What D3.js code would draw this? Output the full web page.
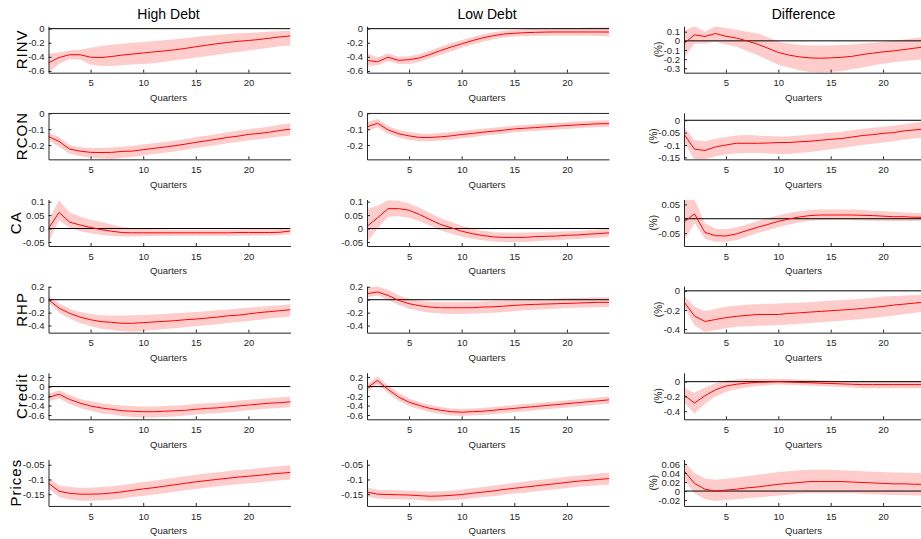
<!DOCTYPE html>
<html><head><meta charset="utf-8">
<script src="https://cdn.jsdelivr.net/npm/d3@7"></script>
<style>
body{margin:0;background:#fff;}
svg{display:block;font-family:"Liberation Sans",Arial,Helvetica,sans-serif;}
</style></head><body>
<svg id="chart" width="921" height="539"></svg>
<script>
// Impulse responses: median (mid) with lower/upper confidence band, by debt regime
const quarters = [1,2,3,4,5,6,7,8,9,10,11,12,13,14,15,16,17,18,19,20,21,22,23,24];
const columnTitles = ["High Debt", "Low Debt", "Difference"];
const rowLabels = ["RINV", "RCON", "CA", "RHP", "Credit", "Prices"];
const xTicks = [5, 10, 15, 20];

// RINV
const rinvHighMid = [-0.485,-0.41,-0.37,-0.37,-0.405,-0.41,-0.395,-0.375,-0.36,-0.345,-0.33,-0.316,-0.30,-0.28,-0.257,-0.235,-0.215,-0.196,-0.18,-0.168,-0.154,-0.135,-0.117,-0.103];
const rinvHighUp  = [-0.355,-0.34,-0.31,-0.30,-0.27,-0.245,-0.23,-0.215,-0.20,-0.19,-0.175,-0.165,-0.15,-0.135,-0.12,-0.10,-0.09,-0.075,-0.065,-0.06,-0.05,-0.04,-0.035,-0.03];
const rinvHighLo  = [-0.62,-0.50,-0.43,-0.44,-0.51,-0.53,-0.53,-0.52,-0.51,-0.50,-0.49,-0.47,-0.45,-0.43,-0.41,-0.39,-0.37,-0.35,-0.33,-0.31,-0.29,-0.27,-0.25,-0.24];
const rinvLowMid  = [-0.45,-0.47,-0.405,-0.45,-0.44,-0.415,-0.365,-0.31,-0.26,-0.215,-0.17,-0.13,-0.10,-0.076,-0.066,-0.057,-0.052,-0.048,-0.047,-0.047,-0.047,-0.047,-0.047,-0.048];
const rinvLowUp   = [-0.35,-0.41,-0.35,-0.40,-0.39,-0.36,-0.31,-0.255,-0.205,-0.16,-0.12,-0.08,-0.05,-0.03,-0.02,-0.01,-0.005,0.0,0.005,0.01,0.01,0.015,0.015,0.02];
const rinvLowLo   = [-0.53,-0.52,-0.46,-0.50,-0.50,-0.47,-0.42,-0.37,-0.32,-0.27,-0.225,-0.185,-0.15,-0.125,-0.11,-0.105,-0.10,-0.10,-0.10,-0.10,-0.10,-0.10,-0.105,-0.11];
const rinvDiffMid = [-0.03,0.066,0.048,0.08,0.05,0.03,0.0,-0.036,-0.08,-0.127,-0.155,-0.175,-0.186,-0.19,-0.186,-0.18,-0.17,-0.15,-0.135,-0.12,-0.11,-0.095,-0.08,-0.066];
const rinvDiffUp  = [0.11,0.16,0.10,0.16,0.14,0.12,0.10,0.08,0.04,-0.01,-0.03,-0.045,-0.05,-0.05,-0.05,-0.045,-0.04,-0.03,-0.02,-0.01,0.0,0.015,0.03,0.04];
const rinvDiffLo  = [-0.19,-0.03,-0.03,-0.01,-0.04,-0.065,-0.11,-0.155,-0.21,-0.26,-0.29,-0.32,-0.34,-0.345,-0.34,-0.33,-0.31,-0.29,-0.27,-0.25,-0.235,-0.22,-0.21,-0.2];

// RCON
const rconHighMid = [-0.146,-0.177,-0.225,-0.238,-0.246,-0.247,-0.246,-0.24,-0.238,-0.229,-0.221,-0.213,-0.204,-0.194,-0.183,-0.173,-0.163,-0.152,-0.144,-0.133,-0.127,-0.119,-0.108,-0.10];
const rconHighUp  = [-0.12,-0.15,-0.20,-0.213,-0.218,-0.218,-0.215,-0.21,-0.205,-0.197,-0.189,-0.18,-0.171,-0.161,-0.151,-0.141,-0.131,-0.12,-0.11,-0.10,-0.092,-0.083,-0.072,-0.062];
const rconHighLo  = [-0.17,-0.21,-0.255,-0.27,-0.28,-0.285,-0.29,-0.28,-0.275,-0.265,-0.257,-0.248,-0.24,-0.23,-0.219,-0.209,-0.199,-0.189,-0.18,-0.169,-0.163,-0.155,-0.146,-0.14];
const rconLowMid  = [-0.085,-0.063,-0.104,-0.129,-0.142,-0.152,-0.152,-0.148,-0.142,-0.133,-0.127,-0.119,-0.113,-0.106,-0.098,-0.094,-0.09,-0.085,-0.081,-0.077,-0.073,-0.069,-0.066,-0.065];
const rconLowUp   = [-0.055,-0.035,-0.08,-0.105,-0.118,-0.127,-0.128,-0.124,-0.118,-0.11,-0.104,-0.097,-0.091,-0.084,-0.077,-0.073,-0.069,-0.064,-0.06,-0.056,-0.052,-0.048,-0.045,-0.044];
const rconLowLo   = [-0.115,-0.088,-0.128,-0.153,-0.166,-0.176,-0.176,-0.172,-0.166,-0.157,-0.15,-0.142,-0.135,-0.128,-0.119,-0.115,-0.111,-0.106,-0.102,-0.098,-0.094,-0.09,-0.087,-0.086];
const rconDiffMid = [-0.056,-0.117,-0.122,-0.108,-0.10,-0.093,-0.093,-0.093,-0.092,-0.09,-0.09,-0.087,-0.085,-0.081,-0.077,-0.074,-0.068,-0.062,-0.058,-0.053,-0.05,-0.043,-0.039,-0.035];
const rconDiffUp  = [-0.026,-0.08,-0.085,-0.075,-0.068,-0.062,-0.06,-0.062,-0.064,-0.066,-0.065,-0.062,-0.058,-0.054,-0.05,-0.046,-0.04,-0.035,-0.03,-0.026,-0.022,-0.016,-0.01,-0.005];
const rconDiffLo  = [-0.087,-0.16,-0.158,-0.145,-0.138,-0.133,-0.132,-0.132,-0.134,-0.136,-0.136,-0.132,-0.128,-0.123,-0.117,-0.112,-0.106,-0.1,-0.095,-0.09,-0.085,-0.078,-0.073,-0.069];

// CA
const caHighMid = [0.0,0.06,0.024,0.013,0.004,-0.004,-0.01,-0.015,-0.016,-0.016,-0.016,-0.016,-0.016,-0.016,-0.016,-0.016,-0.016,-0.016,-0.015,-0.015,-0.015,-0.015,-0.014,-0.009];
const caHighUp  = [0.03,0.105,0.06,0.045,0.033,0.024,0.015,0.006,0.001,-0.002,-0.003,-0.004,-0.005,-0.005,-0.005,-0.005,-0.005,-0.005,-0.004,-0.003,-0.003,-0.003,-0.002,0.003];
const caHighLo  = [-0.05,0.03,0.003,-0.01,-0.018,-0.024,-0.028,-0.03,-0.03,-0.029,-0.028,-0.028,-0.028,-0.028,-0.028,-0.028,-0.028,-0.028,-0.027,-0.027,-0.027,-0.027,-0.025,-0.02];
const caLowMid  = [0.008,0.04,0.074,0.074,0.068,0.052,0.033,0.015,0.003,-0.01,-0.019,-0.026,-0.031,-0.033,-0.033,-0.033,-0.03,-0.029,-0.028,-0.025,-0.024,-0.021,-0.019,-0.016];
const caLowUp   = [0.073,0.085,0.105,0.103,0.093,0.077,0.057,0.038,0.024,0.01,0.0,-0.008,-0.014,-0.016,-0.016,-0.016,-0.014,-0.013,-0.012,-0.01,-0.009,-0.006,-0.004,-0.002];
const caLowLo   = [-0.049,0.0,0.044,0.046,0.04,0.027,0.01,-0.007,-0.019,-0.03,-0.038,-0.044,-0.048,-0.05,-0.05,-0.05,-0.047,-0.045,-0.044,-0.041,-0.039,-0.036,-0.034,-0.031];
const caDiffMid = [-0.012,0.017,-0.048,-0.059,-0.06,-0.053,-0.041,-0.03,-0.02,-0.009,-0.001,0.006,0.011,0.013,0.013,0.013,0.013,0.012,0.011,0.009,0.007,0.007,0.005,0.005];
const caDiffUp  = [0.066,0.066,-0.016,-0.035,-0.037,-0.03,-0.02,-0.008,0.002,0.012,0.02,0.026,0.03,0.032,0.032,0.032,0.032,0.03,0.028,0.026,0.024,0.022,0.02,0.018];
const caDiffLo  = [-0.078,-0.014,-0.07,-0.08,-0.08,-0.074,-0.063,-0.05,-0.04,-0.03,-0.02,-0.012,-0.007,-0.005,-0.004,-0.004,-0.005,-0.006,-0.007,-0.008,-0.008,-0.008,-0.008,-0.008];

// RHP
const rhpHighMid = [0.0,-0.13,-0.21,-0.27,-0.31,-0.34,-0.35,-0.365,-0.365,-0.355,-0.345,-0.335,-0.325,-0.31,-0.30,-0.285,-0.27,-0.25,-0.24,-0.22,-0.2,-0.185,-0.17,-0.155];
const rhpHighUp  = [0.067,-0.06,-0.14,-0.19,-0.22,-0.24,-0.245,-0.245,-0.24,-0.235,-0.228,-0.22,-0.21,-0.2,-0.19,-0.178,-0.165,-0.15,-0.137,-0.124,-0.11,-0.097,-0.085,-0.072];
const rhpHighLo  = [-0.036,-0.2,-0.29,-0.36,-0.41,-0.45,-0.47,-0.49,-0.495,-0.485,-0.47,-0.455,-0.44,-0.425,-0.41,-0.395,-0.38,-0.36,-0.345,-0.33,-0.31,-0.29,-0.275,-0.258];
const rhpLowMid  = [0.093,0.12,0.067,-0.01,-0.062,-0.093,-0.114,-0.124,-0.124,-0.124,-0.124,-0.114,-0.11,-0.1,-0.088,-0.078,-0.072,-0.067,-0.062,-0.057,-0.052,-0.046,-0.041,-0.041];
const rhpLowUp   = [0.19,0.21,0.15,0.07,0.015,-0.015,-0.03,-0.036,-0.036,-0.035,-0.032,-0.026,-0.02,-0.012,-0.005,0.0,0.007,0.012,0.018,0.026,0.03,0.035,0.04,0.04];
const rhpLowLo   = [0.04,0.067,0.0,-0.08,-0.14,-0.175,-0.2,-0.215,-0.22,-0.22,-0.215,-0.21,-0.2,-0.19,-0.178,-0.165,-0.155,-0.146,-0.138,-0.13,-0.125,-0.12,-0.116,-0.114];
const rhpDiffMid = [-0.115,-0.264,-0.32,-0.30,-0.28,-0.267,-0.257,-0.247,-0.247,-0.247,-0.236,-0.23,-0.222,-0.215,-0.208,-0.201,-0.194,-0.184,-0.174,-0.163,-0.149,-0.139,-0.128,-0.118];
const rhpDiffUp  = [-0.045,-0.167,-0.21,-0.19,-0.167,-0.155,-0.145,-0.14,-0.136,-0.132,-0.128,-0.124,-0.118,-0.111,-0.104,-0.097,-0.09,-0.082,-0.072,-0.06,-0.055,-0.05,-0.045,-0.038];
const rhpDiffLo  = [-0.167,-0.36,-0.43,-0.41,-0.39,-0.375,-0.37,-0.365,-0.362,-0.36,-0.352,-0.345,-0.337,-0.329,-0.32,-0.312,-0.304,-0.294,-0.284,-0.27,-0.258,-0.245,-0.23,-0.217];

// Credit
const creditHighMid = [-0.23,-0.16,-0.27,-0.35,-0.41,-0.45,-0.48,-0.51,-0.52,-0.53,-0.53,-0.52,-0.51,-0.50,-0.48,-0.46,-0.45,-0.43,-0.41,-0.39,-0.37,-0.35,-0.34,-0.32];
const creditHighUp  = [-0.15,-0.08,-0.18,-0.26,-0.31,-0.35,-0.38,-0.40,-0.41,-0.42,-0.42,-0.41,-0.40,-0.39,-0.37,-0.35,-0.34,-0.32,-0.30,-0.28,-0.26,-0.24,-0.23,-0.21];
const creditHighLo  = [-0.31,-0.25,-0.37,-0.45,-0.51,-0.56,-0.59,-0.62,-0.64,-0.65,-0.65,-0.64,-0.63,-0.61,-0.59,-0.57,-0.56,-0.54,-0.52,-0.50,-0.48,-0.46,-0.45,-0.43];
const creditLowMid  = [-0.03,0.13,-0.06,-0.22,-0.33,-0.40,-0.46,-0.50,-0.53,-0.54,-0.53,-0.52,-0.50,-0.48,-0.46,-0.44,-0.42,-0.40,-0.38,-0.36,-0.34,-0.32,-0.30,-0.28];
const creditLowUp   = [0.05,0.21,0.03,-0.13,-0.25,-0.33,-0.39,-0.43,-0.46,-0.47,-0.46,-0.45,-0.43,-0.41,-0.39,-0.37,-0.35,-0.33,-0.31,-0.29,-0.27,-0.25,-0.23,-0.21];
const creditLowLo   = [-0.11,0.05,-0.14,-0.30,-0.41,-0.48,-0.54,-0.58,-0.61,-0.62,-0.61,-0.60,-0.58,-0.56,-0.54,-0.52,-0.50,-0.48,-0.46,-0.44,-0.42,-0.40,-0.38,-0.36];
const creditDiffMid = [-0.18,-0.29,-0.19,-0.11,-0.06,-0.035,-0.02,-0.01,-0.005,0.0,-0.005,-0.01,-0.015,-0.02,-0.025,-0.03,-0.035,-0.04,-0.04,-0.04,-0.04,-0.04,-0.04,-0.04];
const creditDiffUp  = [-0.08,-0.15,-0.08,-0.02,0.02,0.03,0.04,0.04,0.04,0.04,0.035,0.03,0.025,0.02,0.015,0.01,0.01,0.01,0.01,0.01,0.01,0.01,0.01,0.01];
const creditDiffLo  = [-0.28,-0.43,-0.30,-0.20,-0.14,-0.10,-0.08,-0.06,-0.05,-0.04,-0.045,-0.05,-0.055,-0.06,-0.065,-0.07,-0.08,-0.09,-0.09,-0.09,-0.09,-0.09,-0.09,-0.09];

// Prices
const pricesHighMid = [-0.113,-0.14,-0.147,-0.15,-0.15,-0.149,-0.146,-0.142,-0.137,-0.132,-0.128,-0.123,-0.118,-0.113,-0.108,-0.104,-0.10,-0.096,-0.092,-0.089,-0.086,-0.082,-0.079,-0.076];
const pricesHighUp  = [-0.095,-0.12,-0.126,-0.128,-0.128,-0.126,-0.123,-0.119,-0.114,-0.109,-0.104,-0.099,-0.094,-0.089,-0.084,-0.080,-0.076,-0.072,-0.068,-0.065,-0.062,-0.058,-0.055,-0.052];
const pricesHighLo  = [-0.131,-0.16,-0.168,-0.172,-0.172,-0.171,-0.169,-0.165,-0.160,-0.155,-0.151,-0.147,-0.142,-0.137,-0.132,-0.128,-0.124,-0.120,-0.116,-0.113,-0.110,-0.106,-0.103,-0.100];
const pricesLowMid  = [-0.143,-0.15,-0.151,-0.152,-0.153,-0.155,-0.157,-0.156,-0.154,-0.151,-0.147,-0.143,-0.139,-0.134,-0.13,-0.126,-0.122,-0.118,-0.114,-0.11,-0.106,-0.103,-0.1,-0.097];
const pricesLowUp   = [-0.128,-0.135,-0.136,-0.137,-0.138,-0.14,-0.141,-0.14,-0.138,-0.134,-0.13,-0.126,-0.121,-0.116,-0.112,-0.107,-0.103,-0.099,-0.095,-0.091,-0.087,-0.084,-0.08,-0.077];
const pricesLowLo   = [-0.158,-0.165,-0.166,-0.167,-0.168,-0.17,-0.173,-0.172,-0.17,-0.168,-0.164,-0.16,-0.157,-0.152,-0.148,-0.145,-0.141,-0.137,-0.133,-0.129,-0.125,-0.122,-0.12,-0.117];
const pricesDiffMid = [0.045,0.017,0.004,0.0,0.002,0.004,0.007,0.009,0.012,0.015,0.017,0.019,0.021,0.021,0.021,0.021,0.02,0.019,0.018,0.017,0.016,0.016,0.015,0.015];
const pricesDiffUp  = [0.065,0.04,0.028,0.025,0.027,0.03,0.033,0.036,0.039,0.042,0.044,0.046,0.047,0.047,0.047,0.046,0.045,0.044,0.043,0.042,0.041,0.041,0.04,0.04];
const pricesDiffLo  = [0.025,-0.005,-0.018,-0.022,-0.02,-0.018,-0.016,-0.014,-0.012,-0.01,-0.008,-0.006,-0.005,-0.005,-0.005,-0.005,-0.005,-0.006,-0.007,-0.008,-0.009,-0.009,-0.01,-0.01];

// Y ticks per panel
const rinvTicks = [-0.6,-0.4,-0.2,0],  rinvDiffTicks = [-0.3,-0.2,-0.1,0,0.1];
const rconTicks = [-0.2,-0.1,0],       rconDiffTicks = [-0.15,-0.1,-0.05,0];
const caTicks = [-0.05,0,0.05,0.1],    caDiffTicks = [-0.05,0,0.05];
const rhpTicks = [-0.4,-0.2,0,0.2],    rhpDiffTicks = [-0.4,-0.2,0];
const creditTicks = [-0.6,-0.4,-0.2,0,0.2], creditDiffTicks = [-0.4,-0.2,0];
const pricesTicks = [-0.15,-0.1,-0.05], pricesDiffTicks = [-0.02,0,0.02,0.04,0.06];

// Panel table (row-major): series + axis limits
const panels = [
  {mid: rinvHighMid, up: rinvHighUp, lo: rinvHighLo, dom: [-0.625, 0.035], ticks: rinvTicks},
  {mid: rinvLowMid,  up: rinvLowUp,  lo: rinvLowLo,  dom: [-0.625, 0.035], ticks: rinvTicks},
  {mid: rinvDiffMid, up: rinvDiffUp, lo: rinvDiffLo, dom: [-0.348, 0.16], ticks: rinvDiffTicks},
  {mid: rconHighMid, up: rconHighUp, lo: rconHighLo, dom: [-0.29, 0.003], ticks: rconTicks},
  {mid: rconLowMid,  up: rconLowUp,  lo: rconLowLo,  dom: [-0.29, 0.003], ticks: rconTicks},
  {mid: rconDiffMid, up: rconDiffUp, lo: rconDiffLo, dom: [-0.158, 0.03], ticks: rconDiffTicks},
  {mid: caHighMid, up: caHighUp, lo: caHighLo, dom: [-0.065, 0.108], ticks: caTicks},
  {mid: caLowMid,  up: caLowUp,  lo: caLowLo,  dom: [-0.065, 0.108], ticks: caTicks},
  {mid: caDiffMid, up: caDiffUp, lo: caDiffLo, dom: [-0.095, 0.067], ticks: caDiffTicks},
  {mid: rhpHighMid, up: rhpHighUp, lo: rhpHighLo, dom: [-0.51, 0.21], ticks: rhpTicks},
  {mid: rhpLowMid,  up: rhpLowUp,  lo: rhpLowLo,  dom: [-0.51, 0.21], ticks: rhpTicks},
  {mid: rhpDiffMid, up: rhpDiffUp, lo: rhpDiffLo, dom: [-0.437, 0.049], ticks: rhpDiffTicks},
  {mid: creditHighMid, up: creditHighUp, lo: creditHighLo, dom: [-0.69, 0.29], ticks: creditTicks},
  {mid: creditLowMid,  up: creditLowUp,  lo: creditLowLo,  dom: [-0.69, 0.29], ticks: creditTicks},
  {mid: creditDiffMid, up: creditDiffUp, lo: creditDiffLo, dom: [-0.51, 0.12], ticks: creditDiffTicks},
  {mid: pricesHighMid, up: pricesHighUp, lo: pricesHighLo, dom: [-0.19, -0.032], ticks: pricesTicks},
  {mid: pricesLowMid,  up: pricesLowUp,  lo: pricesLowLo,  dom: [-0.19, -0.032], ticks: pricesTicks},
  {mid: pricesDiffMid, up: pricesDiffUp, lo: pricesDiffLo, dom: [-0.033, 0.07], ticks: pricesDiffTicks}
];

// Layout
const colX = [[48.5, 290.5], [367, 609], [684, 925]];
const firstBottom = 72.7, rowStep = 86.65, rowH = 46.5;
const axisColor = "#262626";
const tickFont = 9.5, tickPad = 4;

const svg = d3.select("#chart");
const defs = svg.append("defs");

columnTitles.forEach((t, c) => {
  svg.append("text")
    .attr("x", (colX[c][0] + colX[c][1]) / 2 - 1)
    .attr("y", 19)
    .attr("text-anchor", "middle")
    .attr("font-size", 14)
    .attr("fill", "#000")
    .text(t);
});

panels.forEach((p, i) => {
  const r = Math.floor(i / 3), c = i % 3;
  const bottom = firstBottom + r * rowStep, top = bottom - rowH;
  const x = d3.scaleLinear().domain([1, 24]).range(colX[c]);
  const y = d3.scaleLinear().domain(p.dom).range([bottom, top]);

  const clipId = "clip" + i;
  defs.append("clipPath").attr("id", clipId)
    .append("rect")
    .attr("x", colX[c][0]).attr("y", top)
    .attr("width", colX[c][1] - colX[c][0]).attr("height", rowH);

  const plot = svg.append("g").attr("clip-path", `url(#${clipId})`);

  const band = d3.area()
    .x((d, k) => x(quarters[k]))
    .y0((d, k) => y(p.lo[k]))
    .y1((d, k) => y(p.up[k]));
  plot.append("path").datum(p.mid).attr("d", band).attr("fill", "#ffcccc");

  plot.append("line")
    .attr("x1", colX[c][0]).attr("x2", colX[c][1])
    .attr("y1", y(0)).attr("y2", y(0))
    .attr("stroke", "#000").attr("stroke-width", 1);

  const line = d3.line().x((d, k) => x(quarters[k])).y(d => y(d));
  plot.append("path").datum(p.mid).attr("d", line)
    .attr("fill", "none").attr("stroke", "#ff0000").attr("stroke-width", 1);

  const xAxis = svg.append("g")
    .attr("transform", `translate(0,${bottom})`)
    .call(d3.axisBottom(x).tickValues(xTicks).tickSizeInner(-3).tickSizeOuter(0).tickPadding(7));
  const yAxis = svg.append("g")
    .attr("transform", `translate(${colX[c][0]},0)`)
    .call(d3.axisLeft(y).tickValues(p.ticks).tickFormat(d => String(d))
      .tickSizeInner(-3).tickSizeOuter(0).tickPadding(tickPad));
  [xAxis, yAxis].forEach(a => {
    a.attr("font-family", null).attr("font-size", tickFont);
    a.selectAll("path,line").attr("stroke", axisColor);
    a.selectAll("text").attr("fill", axisColor);
  });

  svg.append("text")
    .attr("x", (colX[c][0] + colX[c][1]) / 2 - 1)
    .attr("y", bottom + 28.4)
    .attr("text-anchor", "middle")
    .attr("font-size", 9.5)
    .attr("fill", axisColor)
    .text("Quarters");

  // y label sits just left of the widest tick label
  let widest = 0;
  yAxis.selectAll("text").each(function () {
    widest = Math.max(widest, this.getComputedTextLength());
  });
  const labelX = colX[c][0] - tickPad - widest - 1.5;
  const midY = (top + bottom) / 2;
  if (c === 0) {
    svg.append("text")
      .attr("transform", `translate(${labelX},${midY}) rotate(-90)`)
      .attr("text-anchor", "middle")
      .attr("font-size", 15)
      .attr("letter-spacing", 1)
      .attr("fill", "#000")
      .text(rowLabels[r]);
  } else if (c === 2) {
    svg.append("text")
      .attr("transform", `translate(${labelX},${midY}) rotate(-90)`)
      .attr("text-anchor", "middle")
      .attr("font-size", 10)
      .attr("fill", axisColor)
      .text("(%)");
  }
});
</script></body></html>
